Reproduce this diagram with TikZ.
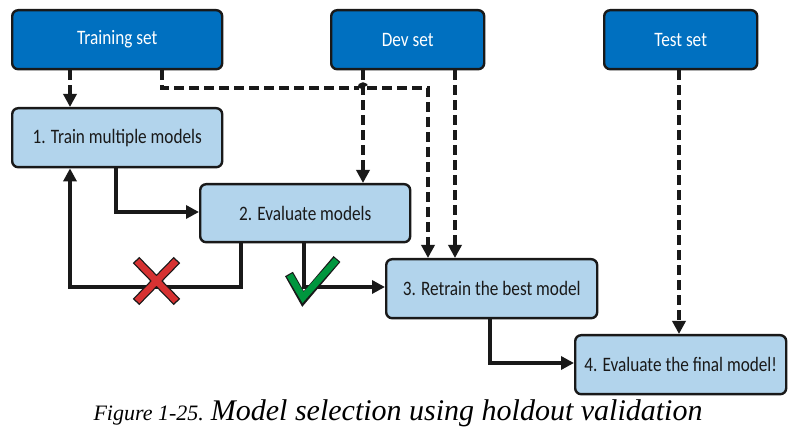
\documentclass[tikz,border=0pt]{standalone}
\usepackage{fontspec}
\setsansfont{Carlito}[FakeStretch=0.84]
\setmainfont{Liberation Serif}
\usetikzlibrary{arrows.meta}
\definecolor{darkblue}{RGB}{0,112,192}
\definecolor{lightblue}{RGB}{178,212,236}
\definecolor{edge}{RGB}{25,25,25}
\definecolor{okgreen}{RGB}{0,150,62}
\definecolor{nored}{RGB}{214,50,50}
\begin{document}
\begin{tikzpicture}[x=1pt,y=-1pt,
  setbox/.style={draw=edge,line width=2.4pt,rounded corners=6pt,fill=darkblue,
    text=white,font=\sffamily\fontsize{20.5}{24}\selectfont,inner sep=0pt,anchor=north west},
  stepbox/.style={draw=edge,line width=2.4pt,rounded corners=6pt,fill=lightblue,
    text=edge,font=\sffamily\fontsize{20.5}{24}\selectfont,inner sep=0pt,anchor=north west},
  flow/.style={draw=edge,line width=3.3pt,-{Triangle[length=13pt,width=13pt]}},
  dflow/.style={draw=edge,line width=3.3pt,dash pattern=on 10pt off 5pt,-{Triangle[length=13pt,width=13pt]}},
  dline/.style={draw=edge,line width=3.3pt,dash pattern=on 10pt off 5pt}]
\useasboundingbox (0,0) rectangle (796,438);
\fill[white] (0,0) rectangle (796,438);
% top boxes
\node[setbox,minimum width=210pt,minimum height=59pt] (train) at (11,9) {Training set};
\node[setbox,minimum width=153pt,minimum height=59pt] (dev) at (330,9) {Dev set};
\node[setbox,minimum width=153pt,minimum height=59pt] (test) at (603,9) {Test set};
% step boxes
\node[stepbox,minimum width=210pt,minimum height=59pt] (s1) at (11,107) {1. Train multiple models};
\node[stepbox,minimum width=210pt,minimum height=58pt] (s2) at (199,183) {2. Evaluate models};
\node[stepbox,minimum width=211pt,minimum height=59pt] (s3) at (385,258) {3. Retrain the best model};
\node[stepbox,minimum width=211pt,minimum height=59pt] (s4) at (574,334) {4. Evaluate the final model!};
% coordinates
\coordinate (hopL) at (359,88);
\coordinate (hopR) at (367,88);
\coordinate (tcorner) at (428,88);
\coordinate (loopA) at (241,287);
\coordinate (loopB) at (70,287);
\coordinate (okA) at (304,287);
% dashed connectors
\draw[dflow] (train.south -| 70,0) -- (s1.north -| 70,0);
\draw[dline] (train.south -| 162,0) -- (162,88) -- (hopL);
\draw[dline] (hopL) arc[start angle=180,end angle=0,radius=4pt];
\draw[dflow] (hopR) -- (tcorner) -- (s3.north -| tcorner);
\draw[dflow] (dev.south -| 363,0) -- (s2.north -| 363,0);
\draw[dflow] (dev.south -| 455,0) -- (s3.north -| 455,0);
\draw[dflow] (test.south -| 679,0) -- (s4.north -| 679,0);
% solid connectors
\draw[flow] (s1.south -| 116,0) -- (116,212) -- (s2.west |- 0,212);
\draw[flow] (s2.south -| loopA) -- (loopA) -- (loopB) -- (s1.south -| loopB);
\draw[flow] (s2.south -| okA) -- (okA) -- (s3.west |- okA);
\draw[flow] (s3.south -| 490,0) -- (490,363) -- (s4.west |- 0,363);
% red cross
\begin{scope}[line cap=butt]
\draw[edge,line width=9pt] (136,260) -- (177,302) (177,260) -- (136,302);
\draw[nored,line width=6.5pt] (137,261) -- (176,301) (176,261) -- (137,301);
% green check
\draw[edge,line width=9pt,line join=miter] (289,274) -- (303,299) -- (337,259);
\draw[okgreen,line width=6.5pt,line join=miter] (289.6,275) -- (303,297.5) -- (336.4,260);
\end{scope}
% caption
\node[anchor=base,font=\itshape] (cap) at (398,421)
  {{\fontsize{22}{26}\selectfont Figure 1-25.}\hspace{7pt}{\fontsize{30}{34}\selectfont Model selection using holdout validation}};
\end{tikzpicture}
\end{document}
